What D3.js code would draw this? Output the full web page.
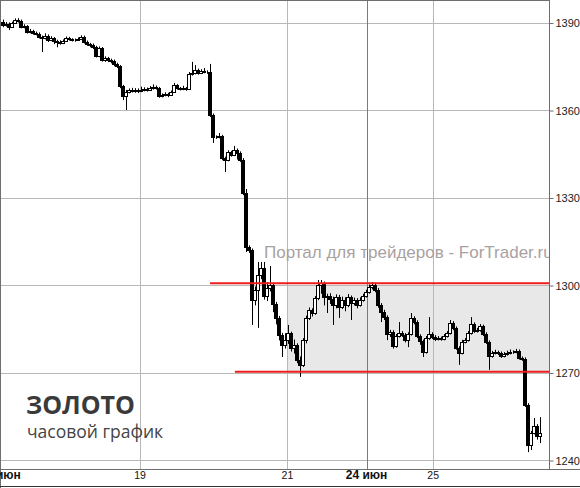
<!DOCTYPE html>
<html><head><meta charset="utf-8">
<script src="https://cdn.jsdelivr.net/npm/d3@7"></script>
<style>html,body{margin:0;padding:0;background:#fff;}svg{display:block;}</style>
</head><body>
<script>
// ---- data (hourly gold candles) ----
const opens = [1390.2,1389.1,1389.5,1388.5,1389.8,1390.9,1390.5,1388.5,1388.8,1386.7,1387.1,1386.4,1386.1,1385.0,1384.7,1385.4,1384.0,1384.7,1383.7,1383.3,
1383.0,1383.7,1384.7,1384.3,1384.0,1384.0,1384.3,1385.0,1383.3,1382.6,1382.3,1381.6,1378.5,1381.3,1377.1,1377.8,1377.1,1376.8,1375.8,1375.1,
1368.2,1364.8,1366.2,1366.9,1366.5,1366.9,1366.5,1366.9,1367.2,1366.9,1367.5,1367.9,1367.5,1364.8,1365.1,1365.5,1365.1,1366.2,1368.6,1367.5,
1367.2,1367.5,1367.2,1372.3,1372.7,1373.7,1372.7,1373.4,1373.0,1373.0,1358.3,1350.7,1350.7,1351.1,1343.5,1342.9,1345.6,1344.6,1346.3,1345.3,
1342.9,1331.5,1313.0,1312.0,1294.9,1298.3,1303.4,1305.8,1296.2,1299.0,1300.0,1293.5,1288.7,1282.9,1279.4,1281.1,1283.5,1278.4,1279.4,1274.3,
1272.6,1281.1,1288.7,1291.4,1290.4,1295.5,1300.0,1300.7,1295.9,1296.2,1295.2,1293.1,1295.9,1292.5,1294.9,1293.1,1295.9,1293.8,1294.9,1293.1,
1294.9,1296.2,1297.6,1299.3,1300.0,1298.3,1293.1,1290.7,1289.0,1283.2,1283.9,1279.1,1282.5,1283.5,1282.9,1281.1,1283.2,1288.7,1287.3,1282.5,
1280.8,1277.0,1281.8,1283.2,1282.2,1281.5,1281.8,1281.5,1282.5,1283.5,1287.0,1285.3,1278.4,1276.7,1280.5,1281.1,1283.5,1286.6,1284.2,1284.6,
1285.9,1283.2,1280.5,1275.7,1276.7,1277.0,1276.7,1275.7,1276.3,1276.7,1277.0,1277.0,1277.4,1275.0,1274.6,1258.9,1245.1,1249.3,1251.7,1248.2];
const highs = [1391.0,1390.2,1390.0,1390.3,1391.4,1391.5,1391.0,1389.4,1389.1,1387.8,1387.5,1386.9,1386.6,1385.5,1386.3,1385.9,1385.3,1385.0,1384.1,1383.9,
1384.2,1385.2,1385.1,1384.6,1384.5,1384.9,1385.6,1385.5,1383.8,1383.0,1382.8,1382.0,1381.8,1381.6,1378.4,1378.2,1377.6,1377.3,1376.2,1375.4,
1368.6,1366.9,1367.4,1367.6,1367.5,1367.4,1368.0,1367.8,1367.7,1368.2,1368.8,1368.4,1367.9,1365.7,1366.1,1365.9,1366.7,1369.3,1368.9,1367.9,
1368.3,1367.9,1373.0,1376.5,1375.4,1374.2,1374.0,1374.4,1373.6,1375.8,1358.8,1351.3,1352.1,1351.5,1344.0,1346.2,1346.0,1347.7,1346.8,1345.8,
1343.5,1332.9,1313.6,1312.5,1299.5,1307.9,1307.9,1307.9,1301.0,1306.5,1300.8,1294.2,1289.4,1283.6,1283.5,1286.3,1284.0,1281.3,1280.0,1275.5,
1281.8,1289.5,1292.3,1292.0,1296.2,1301.7,1301.7,1301.2,1297.0,1297.2,1296.0,1296.8,1296.6,1296.0,1295.8,1296.9,1296.4,1295.7,1295.5,1295.8,
1297.0,1298.4,1300.2,1301.0,1300.8,1299.0,1293.8,1291.5,1289.6,1284.6,1284.5,1283.2,1287.3,1284.2,1283.5,1283.8,1290.4,1289.3,1287.9,1283.1,
1281.3,1282.5,1289.0,1283.8,1282.8,1282.5,1282.3,1283.2,1284.2,1288.0,1287.6,1285.8,1279.0,1281.2,1281.8,1284.2,1289.0,1287.2,1285.3,1286.6,
1286.4,1283.8,1281.0,1277.4,1277.8,1277.5,1277.2,1277.0,1277.5,1277.9,1277.6,1278.1,1277.9,1275.5,1275.2,1259.5,1250.0,1254.4,1252.3,1254.7];
const lows = [1388.4,1388.6,1387.4,1388.2,1389.5,1390.0,1388.0,1388.0,1386.2,1386.3,1385.8,1385.6,1384.5,1379.9,1384.2,1383.3,1383.6,1382.6,1381.5,1382.4,
1382.6,1383.4,1383.8,1383.5,1383.4,1383.7,1384.0,1382.8,1382.0,1381.5,1380.9,1378.0,1378.1,1376.6,1376.5,1376.4,1376.0,1375.0,1374.4,1367.5,
1363.4,1360.0,1365.7,1366.0,1365.9,1365.8,1366.1,1366.4,1366.3,1366.5,1367.0,1367.0,1364.2,1364.3,1364.7,1364.4,1364.8,1366.0,1367.0,1366.7,
1366.8,1366.6,1366.9,1371.8,1372.2,1372.1,1372.3,1372.6,1372.4,1357.6,1348.7,1350.1,1350.3,1342.8,1338.7,1342.4,1344.0,1344.2,1343.0,1342.2,
1330.8,1311.3,1311.0,1286.3,1293.0,1285.3,1302.0,1295.0,1294.5,1297.8,1290.7,1286.5,1281.0,1275.3,1278.2,1279.8,1277.2,1276.5,1273.2,1268.5,
1271.9,1280.0,1288.0,1289.2,1289.8,1294.8,1297.0,1293.0,1290.4,1293.5,1286.3,1292.0,1288.7,1291.8,1291.0,1292.4,1288.0,1293.0,1292.0,1292.6,
1294.3,1295.7,1297.0,1298.5,1297.5,1292.2,1287.3,1288.0,1281.1,1282.2,1278.2,1278.5,1282.0,1282.2,1280.3,1278.7,1282.7,1286.5,1281.8,1279.5,
1275.3,1276.5,1281.2,1281.5,1280.8,1281.0,1280.9,1281.0,1282.0,1283.0,1284.5,1277.8,1272.6,1276.2,1280.0,1280.6,1283.0,1283.6,1283.7,1284.0,
1282.5,1279.8,1270.9,1275.1,1276.2,1276.0,1275.0,1275.2,1275.8,1276.2,1276.4,1276.6,1274.4,1274.0,1258.2,1242.7,1243.4,1248.8,1247.0,1245.8];
const closes = [1389.1,1389.5,1388.5,1389.8,1390.9,1390.5,1388.5,1388.8,1386.7,1387.1,1386.4,1386.1,1385.0,1384.7,1385.4,1384.0,1384.7,1383.7,1383.3,1383.0,
1383.7,1384.7,1384.3,1384.0,1384.0,1384.3,1385.0,1383.3,1382.6,1382.3,1381.6,1378.5,1381.3,1377.1,1377.8,1377.1,1376.8,1375.8,1375.1,1368.2,
1364.8,1366.2,1366.9,1366.5,1366.9,1366.5,1366.9,1367.2,1366.9,1367.5,1367.9,1367.5,1364.8,1365.1,1365.5,1365.1,1366.2,1368.6,1367.5,1367.2,
1367.5,1367.2,1372.3,1372.7,1373.7,1372.7,1373.4,1373.0,1373.0,1358.3,1350.7,1350.7,1351.1,1343.5,1342.9,1345.6,1344.6,1346.3,1345.3,1342.9,
1331.5,1313.0,1312.0,1294.9,1298.3,1303.4,1305.8,1296.2,1299.0,1300.0,1293.5,1288.7,1282.9,1279.4,1281.1,1283.5,1278.4,1279.4,1274.3,1272.6,
1281.1,1288.7,1291.4,1290.4,1295.5,1300.0,1300.7,1295.9,1296.2,1295.2,1293.1,1295.9,1292.5,1294.9,1293.1,1295.9,1293.8,1294.9,1293.1,1294.9,
1296.2,1297.6,1299.3,1300.0,1298.3,1293.1,1290.7,1289.0,1283.2,1283.9,1279.1,1282.5,1283.5,1282.9,1281.1,1283.2,1288.7,1287.3,1282.5,1280.8,
1277.0,1281.8,1283.2,1282.2,1281.5,1281.8,1281.5,1282.5,1283.5,1287.0,1285.3,1278.4,1276.7,1280.5,1281.1,1283.5,1286.6,1284.2,1284.6,1285.9,
1283.2,1280.5,1275.7,1276.7,1277.0,1276.7,1275.7,1276.3,1276.7,1277.0,1277.0,1277.4,1275.0,1274.6,1258.9,1245.1,1249.3,1251.7,1248.2,1249.3];

const priceTicks = [1240, 1270, 1300, 1330, 1360, 1390];
const dayTickPos = [-1, 45.7, 94.8, 121.2, 143.4];       // in bar units
const dayLabels = ["17 июн", "19", "21", "24 июн", "25"];
const dayIsWeek = [true, false, false, true, false];
const levelPrices = [1300.6, 1270.3];
const levelStarts = [69, 77.3];
const zoneRange = [1270, 1300];
const zoneStart = 94.7;
const title = "ЗОЛОТО";
const subtitle = "часовой график";
const watermark = "Портал для трейдеров - ForTrader.ru";

// ---- chart ----
const W = 580, H = 488;
const plotL = 1, plotR = 549, plotT = 1, plotB = 469;
const svg = d3.select("body").append("svg").attr("width", W).attr("height", H);
const x = d3.scaleLinear().domain([0, closes.length - 1]).range([3, 540]);
const y = d3.scaleLinear().domain([1240, 1390]).range([460, 22.5]);

svg.append("rect").attr("width", W).attr("height", H).attr("fill", "#fff");
svg.append("defs").append("clipPath").attr("id", "pc")
  .append("rect").attr("x", plotL).attr("y", plotT).attr("width", plotR - plotL).attr("height", plotB - plotT);
const plot = svg.append("g").attr("clip-path", "url(#pc)");

// zone
plot.append("rect")
  .attr("x", x(zoneStart)).attr("y", y(zoneRange[1]))
  .attr("width", plotR - x(zoneStart)).attr("height", y(zoneRange[0]) - y(zoneRange[1]))
  .attr("fill", "#e8e8e8");

// horizontal grid
plot.selectAll("line.hg").data(priceTicks).join("line").attr("class", "hg")
  .attr("x1", plotL).attr("x2", plotR)
  .attr("y1", d => Math.round(y(d)) + 0.5).attr("y2", d => Math.round(y(d)) + 0.5)
  .attr("stroke", "#b8b8b8").attr("stroke-width", 1);

// vertical grid
plot.selectAll("line.vg").data(dayTickPos).join("line").attr("class", "vg")
  .attr("x1", d => Math.round(x(d)) + 0.5).attr("x2", d => Math.round(x(d)) + 0.5)
  .attr("y1", plotT).attr("y2", plotB)
  .attr("stroke", (d, i) => dayIsWeek[i] ? "#7a7a7a" : "#b8b8b8").attr("stroke-width", 1);

// watermark
plot.append("text").attr("x", 264).attr("y", 258)
  .attr("font-family", "Arial, 'Liberation Sans', sans-serif").attr("font-size", 17)
  .attr("fill", "#a9a1a1").text(watermark);

// candles
const idx = d3.range(closes.length);
const cg = plot.append("g");
cg.selectAll("line.wick").data(idx).join("line").attr("class", "wick")
  .attr("x1", i => Math.round(x(i)) + 0.5).attr("x2", i => Math.round(x(i)) + 0.5)
  .attr("y1", i => y(highs[i])).attr("y2", i => y(lows[i]))
  .attr("stroke", "#000").attr("stroke-width", 1);
cg.selectAll("rect.body").data(idx).join("rect").attr("class", "body")
  .attr("x", i => Math.round(x(i)) - 1.5)
  .attr("width", 3)
  .attr("y", i => Math.round(y(Math.max(opens[i], closes[i]))) + 0.5)
  .attr("height", i => Math.max(0, Math.round(y(Math.min(opens[i], closes[i]))) - Math.round(y(Math.max(opens[i], closes[i])))))
  .attr("fill", i => closes[i] >= opens[i] ? "#fff" : "#000")
  .attr("stroke", "#000").attr("stroke-width", 1);

// red levels
plot.selectAll("line.lvl").data(levelPrices).join("line").attr("class", "lvl")
  .attr("x1", (d, i) => x(levelStarts[i])).attr("x2", plotR)
  .attr("y1", d => y(d)).attr("y2", d => y(d))
  .attr("stroke", "#ee1c1c").attr("stroke-width", 2);

// frame and axes
const frame = "#6e6e6e";
svg.append("line").attr("x1", 0.5).attr("x2", 0.5).attr("y1", 0).attr("y2", H).attr("stroke", frame);
svg.append("line").attr("x1", 0).attr("x2", plotR).attr("y1", 0.5).attr("y2", 0.5).attr("stroke", frame);
svg.append("line").attr("x1", plotR + 0.5).attr("x2", plotR + 0.5).attr("y1", 0).attr("y2", plotB).attr("stroke", frame);
svg.append("line").attr("x1", 0).attr("x2", W).attr("y1", plotB + 0.5).attr("y2", plotB + 0.5).attr("stroke", frame);
svg.append("line").attr("x1", 0).attr("x2", W).attr("y1", H - 1.5).attr("y2", H - 1.5).attr("stroke", "#333");

// right axis
const yAxis = d3.axisRight(y).tickValues(priceTicks).tickSize(4).tickPadding(2).tickFormat(d3.format("d"));
const ya = svg.append("g").attr("transform", `translate(${plotR + 0.5},0.5)`).call(yAxis);
ya.select(".domain").remove();
ya.selectAll(".tick line").attr("stroke", frame);
ya.selectAll(".tick text").attr("font-family", "Arial, 'Liberation Sans', sans-serif").attr("font-size", 11).attr("fill", "#222");

// bottom axis labels
svg.selectAll("text.xl").data(dayTickPos).join("text").attr("class", "xl")
  .attr("x", d => x(d)).attr("y", 479)
  .attr("text-anchor", "middle")
  .attr("font-family", "Arial, 'Liberation Sans', sans-serif")
  .attr("font-size", (d, i) => dayIsWeek[i] ? 12 : 10.5)
  .attr("font-weight", (d, i) => dayIsWeek[i] ? "bold" : "normal")
  .attr("fill", "#111")
  .text((d, i) => dayLabels[i]);

// titles
svg.append("text").attr("x", 26).attr("y", 414)
  .attr("font-family", "'Open Sans', sans-serif").attr("font-weight", "bold").attr("font-size", 25)
  .attr("fill", "#3a3a3a").text(title);
svg.append("text").attr("x", 27).attr("y", 438)
  .attr("font-family", "'Open Sans', sans-serif").attr("font-size", 17.5)
  .attr("fill", "#444").text(subtitle);
</script>
</body></html>
